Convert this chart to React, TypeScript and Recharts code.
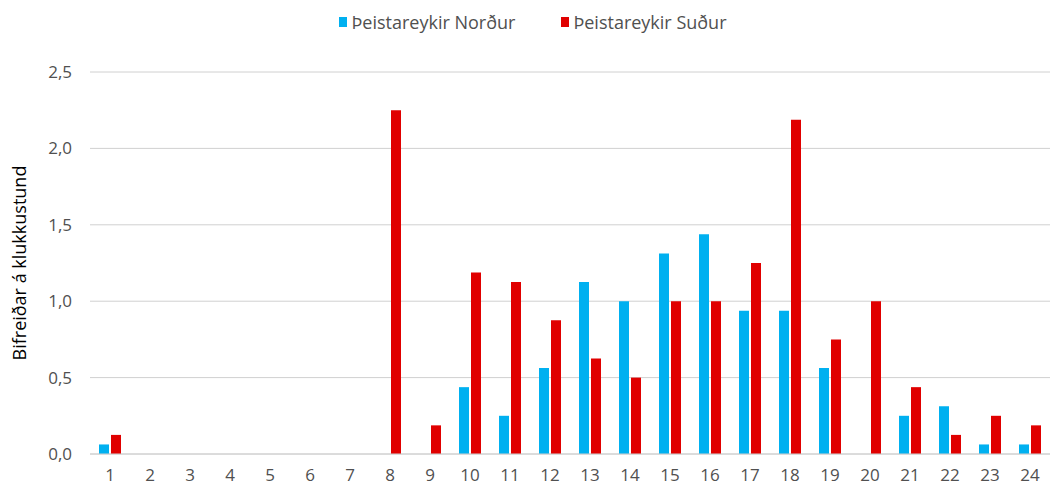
import React from "react";
import { BarChart, Bar, XAxis, YAxis, CartesianGrid } from "recharts";

const hours = ["1","2","3","4","5","6","7","8","9","10","11","12","13","14","15","16","17","18","19","20","21","22","23","24"];
const nordur = [0.0625,0,0,0,0,0,0,0,0,0.4375,0.25,0.5625,1.125,1.0,1.3125,1.4375,0.9375,0.9375,0.5625,0,0.25,0.3125,0.0625,0.0625];
const sudur = [0.125,0,0,0,0,0,0,2.25,0.1875,1.1875,1.125,0.875,0.625,0.5,1.0,1.0,1.25,2.1875,0.75,1.0,0.4375,0.125,0.25,0.1875];
const yTicks = [0, 0.5, 1.0, 1.5, 2.0, 2.5];
const seriesNames = ["Þeistareykir Norður", "Þeistareykir Suður"];
const colors = ["#00b0f0", "#e00000"];

const data = hours.map((h, i) => ({ hour: h, n: nordur[i], s: sudur[i] }));

const FONT = "'Open Sans', 'Liberation Sans', sans-serif";

const LegendBlock = () => (
  <div
    style={{
      position: "absolute",
      top: 10,
      left: 0,
      width: 1066,
      display: "flex",
      justifyContent: "center",
      fontFamily: FONT,
      fontSize: 18,
      color: "#505050",
      lineHeight: "24px",
    }}
  >
    {seriesNames.map((name, i) => (
      <div key={name} style={{ display: "flex", alignItems: "center", marginRight: i === 0 ? 46 : 0 }}>
        <span style={{ display: "inline-block", width: 8, height: 10, background: colors[i], marginRight: 4 }} />
        <span>{name}</span>
      </div>
    ))}
  </div>
);

export default function App() {
  return (
    <div style={{ position: "absolute", left: 0, top: 0, width: 1051, height: 490, background: "#fff" }}>
      <BarChart
        width={1051}
        height={490}
        data={data}
        margin={{ top: 72, right: 1, bottom: 6, left: 40 }}
        barCategoryGap="21%"
        barGap={2}
      >
        <CartesianGrid vertical={false} stroke="#d0d0d0" />
        <XAxis
          dataKey="hour"
          tickLine={false}
          axisLine={{ stroke: "#d0d0d0" }}
          height={30}
          tick={{ fill: "#505050", fontSize: 17, fontFamily: FONT }}
          interval={0}
          tickMargin={9}
        />
        <YAxis
          domain={[0, 2.5]}
          ticks={yTicks}
          width={50}
          tickLine={false}
          axisLine={false}
          tick={{ fill: "#505050", fontSize: 17, fontFamily: FONT }}
          tickFormatter={(v: number) => v.toFixed(1).replace(".", ",")}
          tickMargin={12}
          label={{
            value: "Bifreiðar á klukkustund",
            angle: -90,
            position: "insideLeft",
            offset: 0,
            dx: -20,
            style: { textAnchor: "middle", fill: "#000", fontSize: 18, fontFamily: FONT },
          }}
        />
        <Bar dataKey="n" name={seriesNames[0]} fill={colors[0]} barSize={10} isAnimationActive={false} />
        <Bar dataKey="s" name={seriesNames[1]} fill={colors[1]} barSize={10} isAnimationActive={false} />
      </BarChart>
      <LegendBlock />
    </div>
  );
}
